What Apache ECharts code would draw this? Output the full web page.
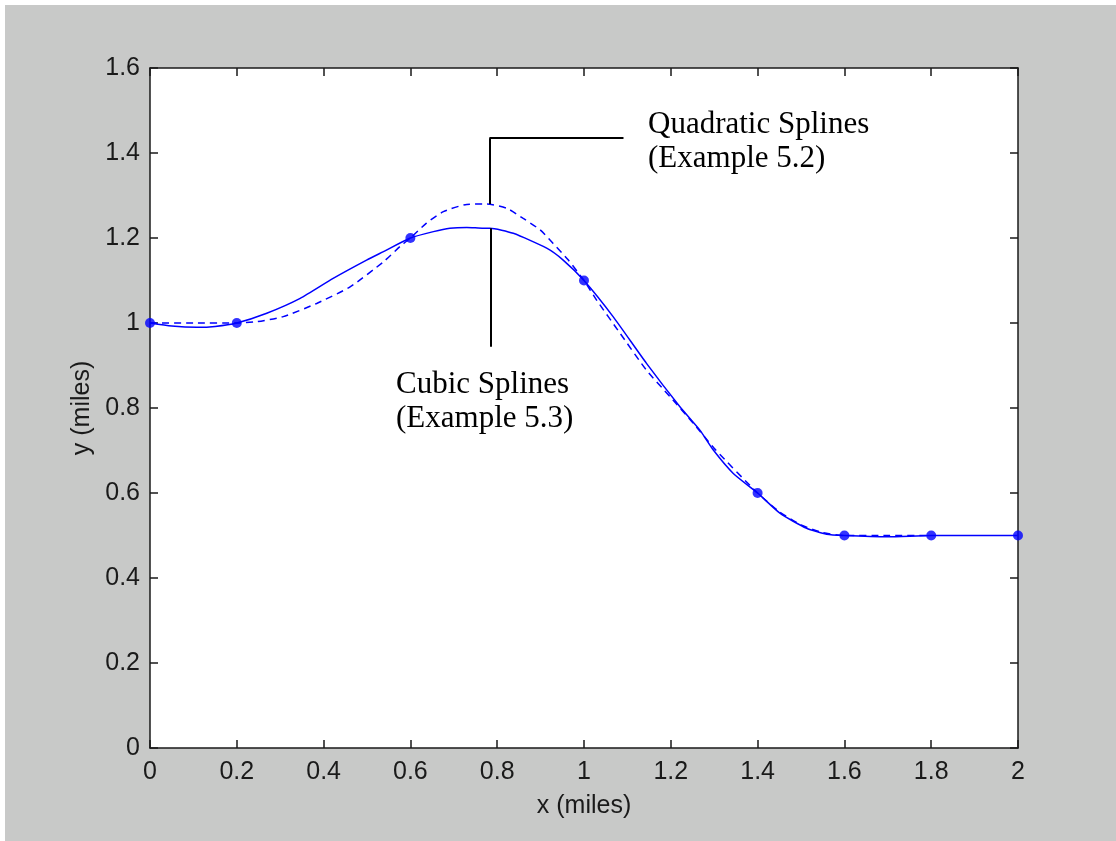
<!DOCTYPE html>
<html>
<head>
<meta charset="utf-8">
<script src="https://cdn.jsdelivr.net/npm/echarts@6/dist/echarts.min.js"></script>
<style>
  html, body { margin: 0; padding: 0; background: #ffffff; }
  #chart { position: absolute; left: 5px; top: 5px; width: 1111px; height: 836px; background: #c8c9c8; }
</style>
</head>
<body>
<div id="chart"></div>
<script>
// Knot points
const knotX = [0, 0.2, 0.6, 1.0, 1.4, 1.6, 1.8, 2.0];
const knotY = [1, 1, 1.2, 1.1, 0.6, 0.5, 0.5, 0.5];

// Cubic spline (solid)
const cubicX = [0, 0.05, 0.108, 0.15, 0.2, 0.269, 0.346, 0.422, 0.499, 0.538, 0.6, 0.653, 0.691, 0.73, 0.768, 0.783, 0.837, 0.914, 0.952, 1.0, 1.067, 1.144, 1.221, 1.267, 1.298, 1.344, 1.4, 1.452, 1.513, 1.559, 1.6, 1.7, 1.8, 1.9, 2.0];
const cubicY = [1, 0.993, 0.990, 0.992, 1, 1.023, 1.058, 1.105, 1.148, 1.168, 1.2, 1.215, 1.223, 1.225, 1.223, 1.223, 1.211, 1.176, 1.148, 1.1, 1.015, 0.905, 0.803, 0.748, 0.701, 0.646, 0.6, 0.552, 0.517, 0.503, 0.5, 0.497, 0.5, 0.5, 0.5];

// Quadratic spline (dashed)
const quadX = [0, 0.1, 0.2, 0.246, 0.307, 0.384, 0.461, 0.538, 0.576, 0.6, 0.637, 0.676, 0.73, 0.776, 0.822, 0.86, 0.899, 0.929, 0.964, 1.0, 1.029, 1.083, 1.144, 1.198, 1.252, 1.3, 1.4, 1.45, 1.5, 1.55, 1.6, 1.7, 1.8];
const quadY = [1, 1, 1, 1.003, 1.015, 1.046, 1.085, 1.144, 1.18, 1.2, 1.235, 1.262, 1.279, 1.28, 1.27, 1.246, 1.219, 1.187, 1.148, 1.1, 1.054, 0.976, 0.889, 0.827, 0.764, 0.705, 0.6, 0.556, 0.525, 0.507, 0.5, 0.5, 0.5];

// Annotation leader lines (data coordinates)
const quadLeader = [[0.782, 1.28], [0.782, 1.435], [1.091, 1.435]];
const cubicLeader = [[0.785, 1.223], [0.785, 0.944]];

const zip = (xs, ys) => xs.map((x, i) => [x, ys[i]]);
const blue = '#0000ff';
const axisColor = '#1a1a1a';
const tickFont = { fontFamily: 'Liberation Sans, Arial, sans-serif', fontSize: 25, color: axisColor };

const chart = echarts.init(document.getElementById('chart'));

const baseX = { type: 'value', min: 0, max: 2, interval: 0.2, splitLine: { show: false },
  axisLine: { show: true, onZero: false, lineStyle: { color: axisColor, width: 1.5 } },
  axisTick: { show: true, inside: true, length: 8, lineStyle: { color: axisColor, width: 1.5 } } };
const baseY = { type: 'value', min: 0, max: 1.6, interval: 0.2, splitLine: { show: false },
  axisLine: { show: true, onZero: false, lineStyle: { color: axisColor, width: 1.5 } },
  axisTick: { show: true, inside: true, length: 8, lineStyle: { color: axisColor, width: 1.5 } } };

const leaderSeg = (pts) => {
  const segs = [];
  for (let i = 0; i < pts.length - 1; i++) segs.push([{ coord: pts[i] }, { coord: pts[i + 1] }]);
  return segs;
};

chart.setOption({
  animation: false,
  backgroundColor: 'transparent',
  grid: { left: 145, top: 63, width: 868, height: 680, show: true, backgroundColor: '#ffffff', borderWidth: 0 },
  xAxis: [
    Object.assign({}, baseX, { position: 'bottom', name: 'x (miles)', nameLocation: 'middle', nameGap: 46,
      nameTextStyle: tickFont, axisLabel: Object.assign({ margin: 12 }, tickFont) }),
    Object.assign({}, baseX, { position: 'top', axisLabel: { show: false } })
  ],
  yAxis: [
    Object.assign({}, baseY, { position: 'left', name: 'y (miles)', nameLocation: 'middle', nameGap: 46,
      nameTextStyle: tickFont, axisLabel: Object.assign({ margin: 10 }, tickFont) }),
    Object.assign({}, baseY, { position: 'right', axisLabel: { show: false } })
  ],
  series: [
    { type: 'line', data: zip(quadX, quadY), showSymbol: false, symbol: 'none', smooth: 0.2,
      lineStyle: { color: blue, width: 1.5, type: [7, 5] }, z: 3 },
    { type: 'line', data: zip(cubicX, cubicY), showSymbol: false, symbol: 'none', smooth: 0.2,
      lineStyle: { color: blue, width: 1.5 }, z: 4,
      markLine: { silent: true, symbol: 'none', label: { show: false },
        lineStyle: { color: '#000', width: 2, type: 'solid' },
        data: leaderSeg(quadLeader).concat(leaderSeg(cubicLeader)) } },
    { type: 'scatter', data: zip(knotX, knotY), symbol: 'circle', symbolSize: 10,
      itemStyle: { color: blue }, z: 5 }
  ],
  graphic: [
    { type: 'text', left: 643, top: 103, style: { text: 'Quadratic Splines\n(Example 5.2)',
      font: '31px "Liberation Serif", "Times New Roman", serif', lineHeight: 34, fill: '#000' } },
    { type: 'text', left: 391, top: 363, style: { text: 'Cubic Splines\n(Example 5.3)',
      font: '31px "Liberation Serif", "Times New Roman", serif', lineHeight: 34, fill: '#000' } }
  ]
});
</script>
</body>
</html>
